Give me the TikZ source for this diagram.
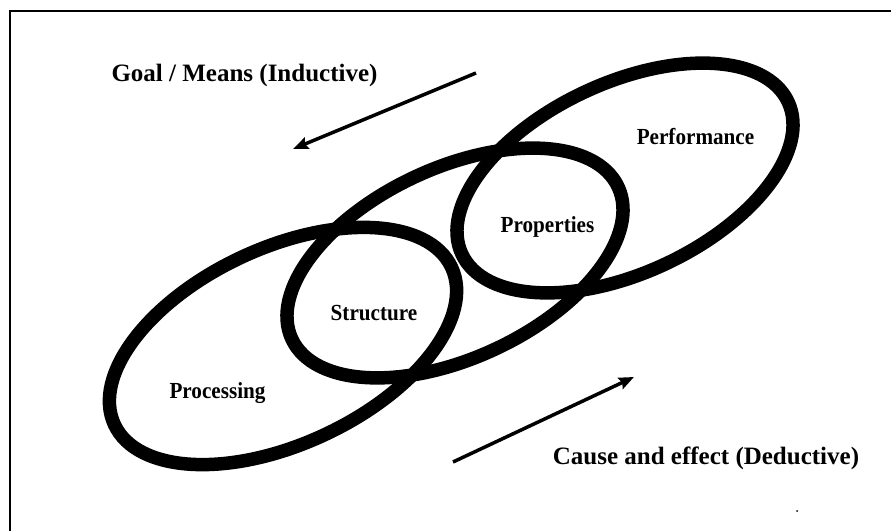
\documentclass[tikz,border=0pt]{standalone}
\usepackage{fontspec}
\setmainfont{Liberation Serif}
\usetikzlibrary{arrows.meta,shapes.geometric}
\tikzset{
  ring/.style={draw=black, line width=13.5pt, ellipse, inner sep=0pt,
    minimum width=360pt, minimum height=190pt, rotate=25},
  inlabel/.style={font=\bfseries\fontsize{23}{23}\selectfont, xscale=0.92, anchor=base, inner sep=0pt},
  outlabel/.style={font=\bfseries\fontsize{25}{25}\selectfont, anchor=base, inner sep=0pt},
  flow/.style={line width=3.5pt, -{Stealth[length=15pt,width=12pt,inset=2pt]}},
  frame/.style={line width=2.2pt}
}
\begin{document}
\begin{tikzpicture}[x=1pt,y=1pt]
\useasboundingbox (0,0) rectangle (891,531);
% frame (left and top sides visible)
\coordinate (fb) at (10,0);
\coordinate (fc) at (10,520);
\coordinate (fr) at (891,520);
\draw[frame] (fb) -- (fc) -- (fr);
% ellipses
\node[ring, minimum width=372pt, minimum height=196pt] (eproc) at (283,185) {};
\node[ring] (emid) at (455,268) {};
\node[ring] (eperf) at (625,353) {};
% labels
\node[inlabel] (lproc) at (217.5,133) {Processing};
\node[inlabel] (lstruct) at (374,211) {Structure};
\node[inlabel] (lprop) at (547.5,299) {Properties};
\node[inlabel] (lperf) at (695.5,386) {Performance};
\node[outlabel] (lgoal) at (244.5,449) {Goal / Means (Inductive)};
\node[outlabel] (lcause) at (706,67) {Cause and effect (Deductive)};
% arrows
\coordinate (g1) at (476,458);
\coordinate (g2) at (293,382);
\coordinate (c1) at (453,69);
\coordinate (c2) at (634,154);
\draw[flow] (g1) -- (g2);
\draw[flow] (c1) -- (c2);
% speck
\fill (797,20) circle (1pt);
\end{tikzpicture}
\end{document}
